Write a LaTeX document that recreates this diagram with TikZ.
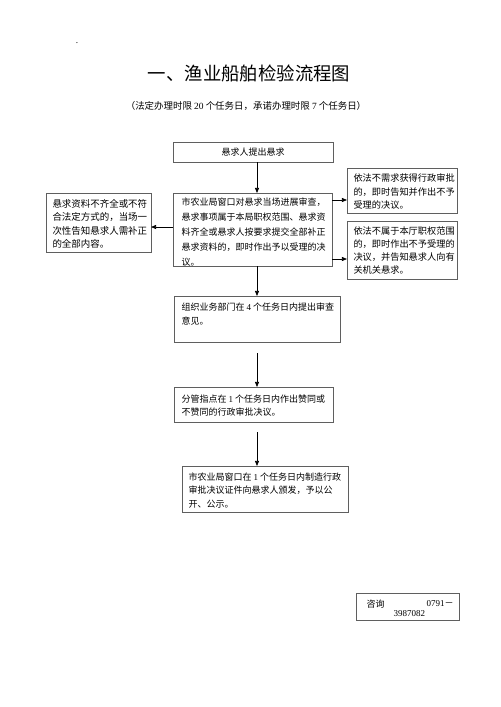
\documentclass[tikz,border=0pt]{standalone}
\usepackage{fontspec}
\setmainfont{Liberation Serif}
\newfontfamily\cjk{Noto Sans CJK SC}
\usetikzlibrary{arrows.meta}

\definecolor{boxline}{RGB}{95,95,95}
\newcommand\dig[1]{{\rmfamily #1}}

\tikzset{every picture/.style={line width=0.75pt}}
\tikzset{
  frame/.style={draw=boxline, line width=0.7pt, inner sep=0pt, outer sep=0pt, anchor=north west},
  flow/.style={-{Triangle[length=3.8pt,width=3pt]}, line width=0.6pt},
  boxtext/.style={anchor=north west, inner sep=0pt, align=left, font=\cjk\fontsize{6.75pt}{10pt}\selectfont}
}

\begin{document}
\begin{tikzpicture}[x=0.75pt,y=0.75pt,yscale=-1,xscale=1]
\useasboundingbox (0,0) rectangle (500,707);

% Title
\node (dot) at (77,43) {\fontsize{7pt}{8pt}\selectfont .};
\node [font=\cjk\fontsize{13.8pt}{16pt}\selectfont] (title) at (249,73) {一、渔业船舶检验流程图};
\node [font=\cjk\fontsize{7.1pt}{9pt}\selectfont] (subtitle) at (246,106) {（法定办理时限 \dig{20} 个任务日，承诺办理时限 \dig{7} 个任务日）};

% Boxes
\node [frame, minimum width=160*0.75pt, minimum height=20*0.75pt, font=\cjk\fontsize{6.75pt}{8pt}\selectfont] (apply) at (173,142) {悬求人提出悬求};
\node [frame, minimum width=159*0.75pt, minimum height=73*0.75pt] (accept) at (173,193) {};
\node [frame, minimum width=105*0.75pt, minimum height=59*0.75pt] (supply) at (46,193) {};
\node [frame, minimum width=110*0.75pt, minimum height=45*0.75pt] (noneed) at (347,168) {};
\node [frame, minimum width=110*0.75pt, minimum height=58*0.75pt] (notours) at (347,221) {};
\node [frame, minimum width=166*0.75pt, minimum height=46*0.75pt] (review) at (174,296) {};
\node [frame, minimum width=159*0.75pt, minimum height=35*0.75pt] (decide) at (174,387) {};
\node [frame, minimum width=166*0.75pt, minimum height=46*0.75pt] (issue) at (182,466) {};
\node [frame, minimum width=103*0.75pt, minimum height=27*0.75pt] (consult) at (356,593) {};

% Text Nodes
\node [boxtext, font=\cjk\fontsize{6.75pt}{11.3pt}\selectfont] (acceptText) at (181,197.5) {市农业局窗口对悬求当场进展审查，\\悬求事项属于本局职权范围、悬求资\\料齐全或悬求人按要求提交全部补正\\悬求资料的，即时作出予以受理的决\\议。};
\node [boxtext, font=\cjk\fontsize{7.1pt}{10pt}\selectfont] (supplyText) at (52,199) {悬求资料不齐全或不符\\合法定方式的，当场一\\次性告知悬求人需补正\\的全部内容。};
\node [boxtext, font=\cjk\fontsize{6.9pt}{10pt}\selectfont] (noneedText) at (353,173.4) {依法不需求获得行政审批\\的，即时告知并作出不予\\受理的决议。};
\node [boxtext, font=\cjk\fontsize{6.9pt}{9.6pt}\selectfont] (notoursText) at (353,226.7) {依法不属于本厅职权范围\\的，即时作出不予受理的\\决议，并告知悬求人向有\\关机关悬求。};
\node [boxtext, font=\cjk\fontsize{6.75pt}{10.5pt}\selectfont] (reviewText) at (181,302.5) {组织业务部门在 \dig{4} 个任务日内提出审查\\意见。};
\node [boxtext] (decideText) at (181,394) {分管指点在 \dig{1} 个任务日内作出赞同或\\不赞同的行政审批决议。};
\node [boxtext] (issueText) at (188,472.5) {市农业局窗口在 \dig{1} 个任务日内制造行政\\审批决议证件向悬求人颁发，予以公\\开、公示。};
\node [boxtext, anchor=west] (consultA) at (366,604) {咨询};
\node [boxtext, anchor=west, font=\rmfamily\fontsize{6.75pt}{8pt}\selectfont] (consultB) at (426,604) {0791{\cjk －}};
\node [boxtext, anchor=west, font=\rmfamily\fontsize{6.75pt}{8pt}\selectfont] (consultC) at (393,614) {3987082};

% Connectors
\coordinate (spine) at (257,0);
\coordinate (leftRow) at (0,227);
\coordinate (rowA) at (0,200);
\coordinate (rowB) at (0,259);
\draw [flow] (apply.south -| spine) -- (accept.north -| spine);
\draw [flow] (accept.south -| spine) -- (review.north -| spine);
\draw [flow, shorten <=8.25pt] (review.south -| spine) -- (decide.north -| spine);
\draw [flow, shorten <=7.5pt] (decide.south -| spine) -- (issue.north -| spine);
\draw [flow] (accept.west |- leftRow) -- (supply.east |- leftRow);
\draw [flow] (accept.east |- rowA) -- (noneed.west |- rowA);
\draw [flow] (accept.east |- rowB) -- (notours.west |- rowB);

\end{tikzpicture}
\end{document}
